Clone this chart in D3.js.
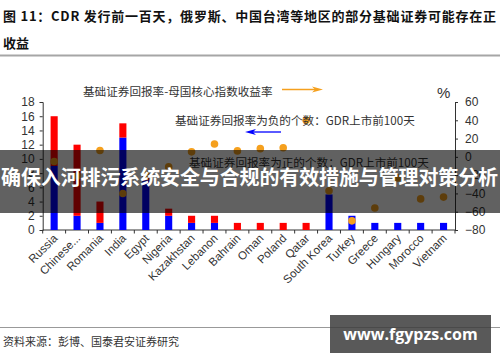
<!DOCTYPE html>
<html>
<head>
<meta charset="utf-8">
<script src="https://cdn.jsdelivr.net/npm/d3@7"></script>
<style>
  html, body { margin: 0; padding: 0; background: #fff; }
  svg { display: block; }
</style>
</head>
<body>
<div id="chart"></div>
<script>
// countries along the x axis
const countries = ["Russia", "Chinese...", "Romania", "India", "Egypt", "Nigeria", "Kazakhstan",
  "Lebanon", "Bahrain", "Oman", "Poland", "Qatar", "South Korea", "Turkey", "Greece",
  "Hungary", "Morocco", "Vietnam"];

// number of underlying securities with negative return (blue, bottom of stack)
const negCount = [9, 2, 1, 13, 7, 2, 1, 1, 0, 0, 0, 0, 5, 2, 1, 1, 1, 1];
// number with positive return (red, stacked on top)
const posCount = [7, 10, 3, 2, 1, 1, 1, 1, 1, 1, 1, 1, 0, 0, 0, 0, 0, 0];
// return of underlying minus home index return, % (right axis)
const excessRet = [-5, -21, 7, -40, -20, -11, 5.5, 14, 6.5, 9, 10, 40, -37, -70, -56, -23, -46, -44];

const leftTicks = [0, 2, 4, 6, 8, 10, 12, 14, 16, 18];
const rightTicks = [-80, -60, -40, -20, 0, 20, 40, 60];

const W = 500, H = 362;
const plot = { l: 42.7, r: 455, t: 102, b: 230 };
const cn = "'Noto Sans CJK SC', 'Noto Sans', sans-serif";
const latin = "'Liberation Sans', Arial, sans-serif";

const BLUE = "#0000ff", RED = "#ff0000", ORANGE = "#f5a01e";

const svg = d3.select("#chart").append("svg")
  .attr("width", W)
  .attr("height", H)
  .attr("viewBox", [0, 0, W, H]);

// title
svg.append("text")
  .attr("x", 3).attr("y", 21)
  .attr("font-family", cn).attr("font-size", 13).attr("font-weight", 700)
  .attr("fill", "#111")
  .attr("textLength", 493).attr("lengthAdjust", "spacing")
  .text("图 11：CDR 发行前一百天，俄罗斯、中国台湾等地区的部分基础证券可能存在正");
svg.append("text")
  .attr("x", 3).attr("y", 48)
  .attr("font-family", cn).attr("font-size", 13).attr("font-weight", 700)
  .attr("fill", "#111")
  .text("收益");
svg.append("line")
  .attr("x1", 0).attr("x2", W).attr("y1", 55.5).attr("y2", 55.5)
  .attr("stroke", "#a6a6a6").attr("stroke-width", 2);

const x = d3.scaleBand().domain(countries).range([plot.l, plot.r]).paddingInner(0.69).paddingOuter(0.345);
const yL = d3.scaleLinear().domain([0, 18]).range([plot.b, plot.t]);
const yR = d3.scaleLinear().domain([-80, 60]).range([plot.b, plot.t]);

// axes
const axL = svg.append("g")
  .attr("transform", `translate(${plot.l},0)`)
  .call(d3.axisLeft(yL).tickValues(leftTicks).tickSize(3).tickPadding(5));
const axR = svg.append("g")
  .attr("transform", `translate(${plot.r},0)`)
  .call(d3.axisRight(yR).tickValues(rightTicks).tickSize(3).tickPadding(7));
[axL, axR].forEach(g => {
  g.select(".domain").attr("stroke", "#333");
  g.selectAll(".tick line").attr("stroke", "#333");
  g.selectAll(".tick text")
    .attr("font-family", latin).attr("font-size", 12).attr("fill", "#333");
});

// x axis line with ticks at band edges
const step = x.step();
const edges = d3.range(countries.length + 1).map(i => plot.l + i * step);
svg.append("line")
  .attr("x1", plot.l).attr("x2", plot.r)
  .attr("y1", plot.b).attr("y2", plot.b)
  .attr("stroke", "#333");
svg.append("g").selectAll("line").data(edges).join("line")
  .attr("x1", d => d).attr("x2", d => d)
  .attr("y1", plot.b).attr("y2", plot.b + 3.5)
  .attr("stroke", "#333");

svg.append("g").selectAll("text").data(countries).join("text")
  .attr("transform", d => `translate(${x(d) + x.bandwidth() / 2 + 4},${plot.b + 9}) rotate(-45)`)
  .attr("text-anchor", "end")
  .attr("font-family", latin).attr("font-size", 11.5).attr("fill", "#333")
  .text(d => d);

// stacked bars
const gBars = svg.append("g");
gBars.selectAll("rect.neg").data(countries).join("rect")
  .attr("class", "neg")
  .attr("x", d => x(d))
  .attr("width", x.bandwidth())
  .attr("y", (d, i) => yL(negCount[i]))
  .attr("height", (d, i) => yL(0) - yL(negCount[i]))
  .attr("fill", BLUE);
gBars.selectAll("rect.pos").data(countries).join("rect")
  .attr("class", "pos")
  .attr("x", d => x(d))
  .attr("width", x.bandwidth())
  .attr("y", (d, i) => yL(negCount[i] + posCount[i]))
  .attr("height", (d, i) => yL(negCount[i]) - yL(negCount[i] + posCount[i]))
  .attr("fill", RED);

// dots on right axis
svg.append("g").selectAll("circle").data(countries).join("circle")
  .attr("cx", d => x(d) + x.bandwidth() / 2)
  .attr("cy", (d, i) => yR(excessRet[i]))
  .attr("r", 3.8)
  .attr("fill", ORANGE);

// legend texts and arrows
function arrow(x1, x2, y, color) {
  const dir = Math.sign(x2 - x1);
  svg.append("line")
    .attr("x1", x1).attr("x2", x2 - dir * 8)
    .attr("y1", y).attr("y2", y)
    .attr("stroke", color).attr("stroke-width", 1.3);
  svg.append("path")
    .attr("d", `M${x2},${y} L${x2 - dir * 11},${y - 3} L${x2 - dir * 8},${y} L${x2 - dir * 11},${y + 3} Z`)
    .attr("fill", color);
}

const legendFont = (sel) => sel.attr("font-family", cn).attr("font-size", 11.6).attr("fill", "#333");

svg.append("text").attr("x", 83).attr("y", 95.5).call(legendFont)
  .text("基础证券回报率-母国核心指数收益率");
arrow(282, 323, 89.5, ORANGE);

svg.append("text").attr("x", 175).attr("y", 125).call(legendFont)
  .text("基础证券回报率为负的个数：GDR上市前100天");
arrow(281, 245, 132, BLUE);

svg.append("text").attr("x", 189).attr("y", 167).call(legendFont)
  .text("基础证券回报率为正的个数：GDR上市前100天");

svg.append("text").attr("x", 437).attr("y", 98)
  .attr("font-family", latin).attr("font-size", 15).attr("fill", "#333")
  .text("%");

// footer
svg.append("line")
  .attr("x1", 0).attr("x2", W).attr("y1", 327.5).attr("y2", 327.5)
  .attr("stroke", "#999").attr("stroke-width", 1);
svg.append("text").attr("x", 3).attr("y", 345.5)
  .attr("font-family", cn).attr("font-size", 11).attr("fill", "#333")
  .text("资料来源：彭博、国泰君安证券研究");

// overlay band with caption
svg.append("rect")
  .attr("x", 0).attr("y", 150).attr("width", W).attr("height", 63)
  .attr("fill", "rgba(0,0,0,0.62)");
svg.append("text")
  .attr("x", 1).attr("y", 184.5)
  .attr("font-family", cn).attr("font-size", 20).attr("font-weight", 700)
  .attr("fill", "#fff")
  .attr("textLength", 497).attr("lengthAdjust", "spacing")
  .text("确保入河排污系统安全与合规的有效措施与管理对策分析");

// site stamp
svg.append("rect")
  .attr("x", 330).attr("y", 315).attr("width", 161).attr("height", 38)
  .attr("fill", "rgba(60,60,60,0.85)");
svg.append("text")
  .attr("x", 410.5).attr("y", 339.5)
  .attr("text-anchor", "middle")
  .attr("font-family", "'Open Sans', 'DejaVu Sans', sans-serif").attr("font-size", 16).attr("font-weight", 700)
  .attr("fill", "#fff")
  .text("www.fgypzs.com");
</script>
</body>
</html>
